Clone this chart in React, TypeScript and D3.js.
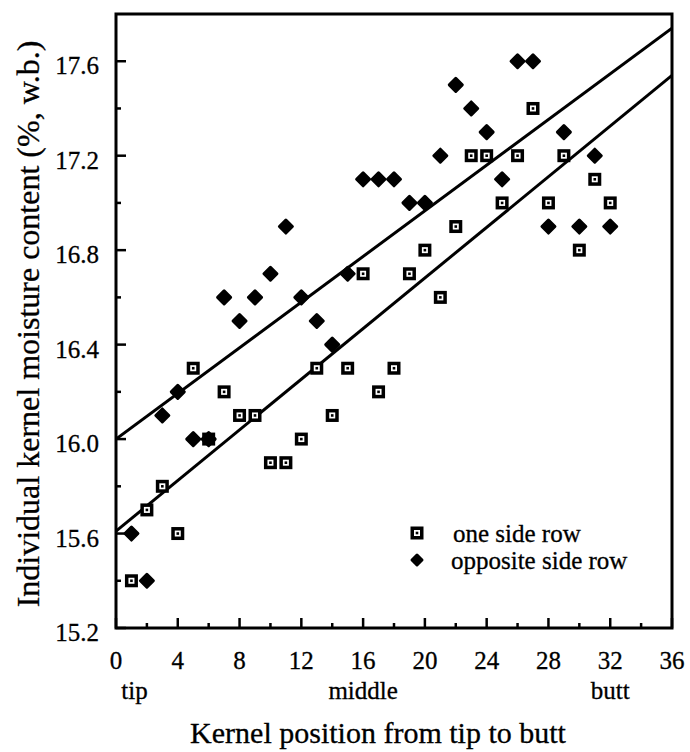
import React, { useEffect, useRef } from 'react';
import * as d3 from 'd3';

// kernel positions 1..32
const positions = [1, 2, 3, 4, 5, 6, 7, 8, 9, 10, 11, 12, 13, 14, 15, 16, 17, 18, 19, 20, 21, 22, 23, 24, 25, 26, 27, 28, 29, 30, 31, 32];

// one side row (squares)
const oneSide = [15.4, 15.7, 15.8, 15.6, 16.3, 16.0, 16.2, 16.1, 16.1, 15.9, 15.9, 16.0, 16.3, 16.1, 16.3, 16.7,
  16.2, 16.3, 16.7, 16.8, 16.6, 16.9, 17.2, 17.2, 17.0, 17.2, 17.4, 17.0, 17.2, 16.8, 17.1, 17.0];

// opposite side row (diamonds)
const opposite = [15.6, 15.4, 16.1, 16.2, 16.0, 16.0, 16.6, 16.5, 16.6, 16.7, 16.9, 16.6, 16.5, 16.4, 16.7, 17.1,
  17.1, 17.1, 17.0, 17.0, 17.2, 17.5, 17.4, 17.3, 17.1, 17.6, 17.6, 16.9, 17.3, 16.9, 17.2, 16.9];

// fitted lines, end points
const lineOpposite = [[0, 16.0], [36, 17.74]];
const lineOneSide = [[0, 15.61], [36, 17.54]];

const xTicks = [0, 4, 8, 12, 16, 20, 24, 28, 32, 36];
const xMinor = [2, 6, 10, 14, 18, 22, 26, 30, 34];
const yTicks = [15.2, 15.6, 16.0, 16.4, 16.8, 17.2, 17.6];
const yMinor = [15.4, 15.8, 16.2, 16.6, 17.0, 17.4];
const posLabels = [{ v: 1.2, t: 'tip' }, { v: 16, t: 'middle' }, { v: 32, t: 'butt' }];

const W = 690, H = 752;
const FONT = '"Liberation Serif", "Times New Roman", serif';

export default function App() {
  const ref = useRef<SVGSVGElement>(null);

  useEffect(() => {
    const svg = d3.select(ref.current);
    svg.selectAll('*').remove();

    const left = 116, right = 672, top = 14, bottom = 628;
    const x = d3.scaleLinear().domain([0, 36]).range([left, right]);
    const y = d3.scaleLinear().domain([15.2, 17.8]).range([bottom, top]);

    svg.append('defs').append('clipPath').attr('id', 'plotclip')
      .append('rect').attr('x', left).attr('y', top).attr('width', right - left).attr('height', bottom - top);

    // inward ticks
    const g = svg.append('g').attr('stroke', '#000').attr('stroke-width', 2.5);
    xTicks.forEach(v => g.append('line').attr('x1', x(v)).attr('x2', x(v)).attr('y1', bottom).attr('y2', bottom - 10));
    xMinor.forEach(v => g.append('line').attr('x1', x(v)).attr('x2', x(v)).attr('y1', bottom).attr('y2', bottom - 5));
    yTicks.forEach(v => g.append('line').attr('x1', left).attr('x2', left + 10).attr('y1', y(v)).attr('y2', y(v)));
    yMinor.forEach(v => g.append('line').attr('x1', left).attr('x2', left + 5).attr('y1', y(v)).attr('y2', y(v)));

    // frame
    svg.append('rect').attr('x', left).attr('y', top).attr('width', right - left).attr('height', bottom - top)
      .attr('fill', 'none').attr('stroke', '#000').attr('stroke-width', 3);

    const txt = (sel: any) => sel.attr('font-family', FONT).attr('fill', '#000')
      .attr('stroke', '#000').attr('stroke-width', 0.3);

    // tick labels
    svg.append('g').call(txt).selectAll('text').data(xTicks).enter().append('text')
      .attr('x', d => x(d)).attr('y', 669).attr('text-anchor', 'middle')
      .attr('font-size', 25).text(d => d);

    svg.append('g').call(txt).selectAll('text').data(yTicks).enter().append('text')
      .attr('x', 99).attr('y', d => y(d) + 13).attr('text-anchor', 'end')
      .attr('font-size', 25).text(d => d.toFixed(1));

    svg.append('g').call(txt).selectAll('text').data(posLabels).enter().append('text')
      .attr('x', d => x(d.v)).attr('y', 699).attr('text-anchor', 'middle')
      .attr('font-size', 25).text(d => d.t);

    // axis titles
    svg.append('text').call(txt).attr('x', 378).attr('y', 743).attr('text-anchor', 'middle')
      .attr('font-size', 30).text('Kernel position from tip to butt');

    svg.append('text').call(txt).attr('transform', 'translate(39,324) rotate(-90)').attr('text-anchor', 'middle')
      .attr('font-size', 32).text('Individual kernel moisture content (%, w.b.)');

    // regression lines
    const line = d3.line<number[]>().x(d => x(d[0])).y(d => y(d[1]));
    const lg = svg.append('g').attr('clip-path', 'url(#plotclip)');
    [lineOpposite, lineOneSide].forEach(l => lg.append('path').attr('d', line(l))
      .attr('fill', 'none').attr('stroke', '#000').attr('stroke-width', 3));

    const drawSquare = (sel: any, cx: number, cy: number) => {
      sel.append('rect').attr('x', cx - 6.5).attr('y', cy - 6.5).attr('width', 13).attr('height', 13).attr('fill', '#000');
      sel.append('rect').attr('x', cx - 3).attr('y', cy - 3).attr('width', 6).attr('height', 6).attr('fill', '#fff');
      sel.append('rect').attr('x', cx - 1.3).attr('y', cy - 1.3).attr('width', 2.6).attr('height', 2.6).attr('fill', '#000');
    };
    const drawDiamond = (sel: any, cx: number, cy: number, r: number) => {
      sel.append('path')
        .attr('d', `M${cx},${cy - r}L${cx + r},${cy}L${cx},${cy + r}L${cx - r},${cy}Z`)
        .attr('fill', '#000').attr('stroke', '#000').attr('stroke-width', 3).attr('stroke-linejoin', 'round');
    };

    const pts = svg.append('g');
    positions.forEach((p, i) => drawSquare(pts, x(p), y(oneSide[i])));
    positions.forEach((p, i) => drawDiamond(pts, x(p), y(opposite[i]), 6.5));

    // legend
    const leg = svg.append('g');
    drawSquare(leg, 417, 533);
    drawDiamond(leg, 417, 560, 5);
    leg.append('text').call(txt).attr('x', 453).attr('y', 542).attr('font-size', 25).text('one side row');
    leg.append('text').call(txt).attr('x', 451).attr('y', 569).attr('font-size', 25).text('opposite side row');
  }, []);

  return (
    <svg ref={ref} width={W} height={H} style={{ position: 'absolute', left: 0, top: 0, background: '#fff' }} />
  );
}
